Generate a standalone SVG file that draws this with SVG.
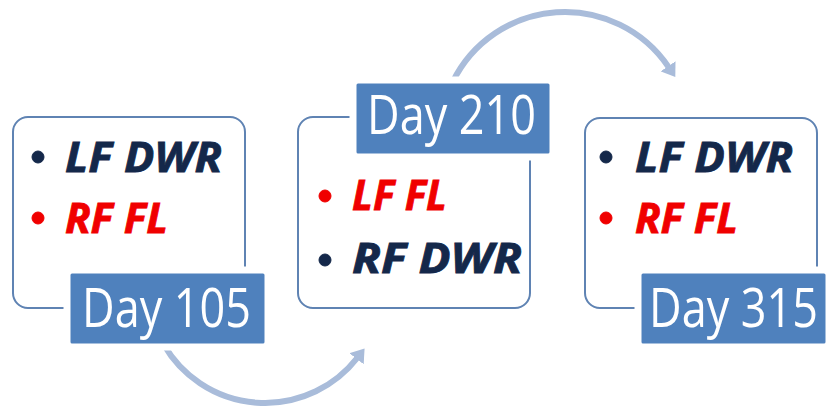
<svg xmlns="http://www.w3.org/2000/svg" width="829" height="406" viewBox="0 0 829 406">
<style>
.frame{fill:#fff;stroke:#5F83B3;stroke-width:2}
.lab{fill:#4F81BD;stroke:#fff;stroke-width:7}
.day{font-family:"Open Sans","Noto Sans",sans-serif;font-size:45px;fill:#fff}
.it{font-family:"Open Sans","Noto Sans",sans-serif;font-size:42px;font-weight:bold;font-style:italic;stroke-width:0.8}
.navy{fill:#14284A;stroke:#14284A}
.red{fill:#F00000;stroke:#F00000}
.arc{fill:none;stroke:#A9BCDA;stroke-width:6}
</style>
<defs>
<marker id="ah" markerUnits="userSpaceOnUse" markerWidth="14" markerHeight="18" refX="1" refY="9" orient="auto" viewBox="0 0 14 18">
<path d="M0,0 L13,9 L0,18 z" fill="#A9BCDA"/>
</marker>
</defs>
<g id="connectors">
<path class="arc" d="M163.7,344.5 A117,117 0 0 0 357.2,358" marker-end="url(#ah)"/>
<path class="arc" d="M452.6,82.2 A125,125 0 0 1 668.6,67.1" marker-end="url(#ah)"/>
</g>
<g id="node-day105">
<rect class="frame" x="13" y="117" width="232" height="191" rx="15"/>
<circle cx="38" cy="157" r="6" class="navy"/>
<text class="it navy" x="65" y="172" textLength="157" lengthAdjust="spacingAndGlyphs">LF DWR</text>
<circle cx="38" cy="218" r="6" class="red"/>
<text class="it red" x="65" y="233" textLength="103" lengthAdjust="spacingAndGlyphs">RF FL</text>
<rect class="lab" x="67" y="270" width="201" height="77" rx="5"/>
<text class="day" transform="translate(82,327) scale(1,1.2)">Day 105</text>
</g>
<g id="node-day210">
<rect class="frame" x="298" y="117" width="232" height="191" rx="15"/>
<circle cx="325" cy="196" r="6" class="red"/>
<text class="it red" x="352" y="210" textLength="95" lengthAdjust="spacingAndGlyphs">LF FL</text>
<circle cx="325" cy="260" r="6" class="navy"/>
<text class="it navy" x="352" y="273" textLength="170" lengthAdjust="spacingAndGlyphs">RF DWR</text>
<rect class="lab" x="353" y="80" width="200" height="77" rx="5"/>
<text class="day" transform="translate(367,134) scale(1,1.2)">Day 210</text>
</g>
<g id="node-day315">
<rect class="frame" x="585" y="118" width="232" height="190" rx="15"/>
<circle cx="606" cy="157" r="6" class="navy"/>
<text class="it navy" x="635" y="172" textLength="158" lengthAdjust="spacingAndGlyphs">LF DWR</text>
<circle cx="606" cy="218" r="6" class="red"/>
<text class="it red" x="635" y="233" textLength="103" lengthAdjust="spacingAndGlyphs">RF FL</text>
<rect class="lab" x="638" y="270" width="191" height="77" rx="5"/>
<text class="day" transform="translate(649,327) scale(1,1.2)">Day 315</text>
</g>
</svg>
